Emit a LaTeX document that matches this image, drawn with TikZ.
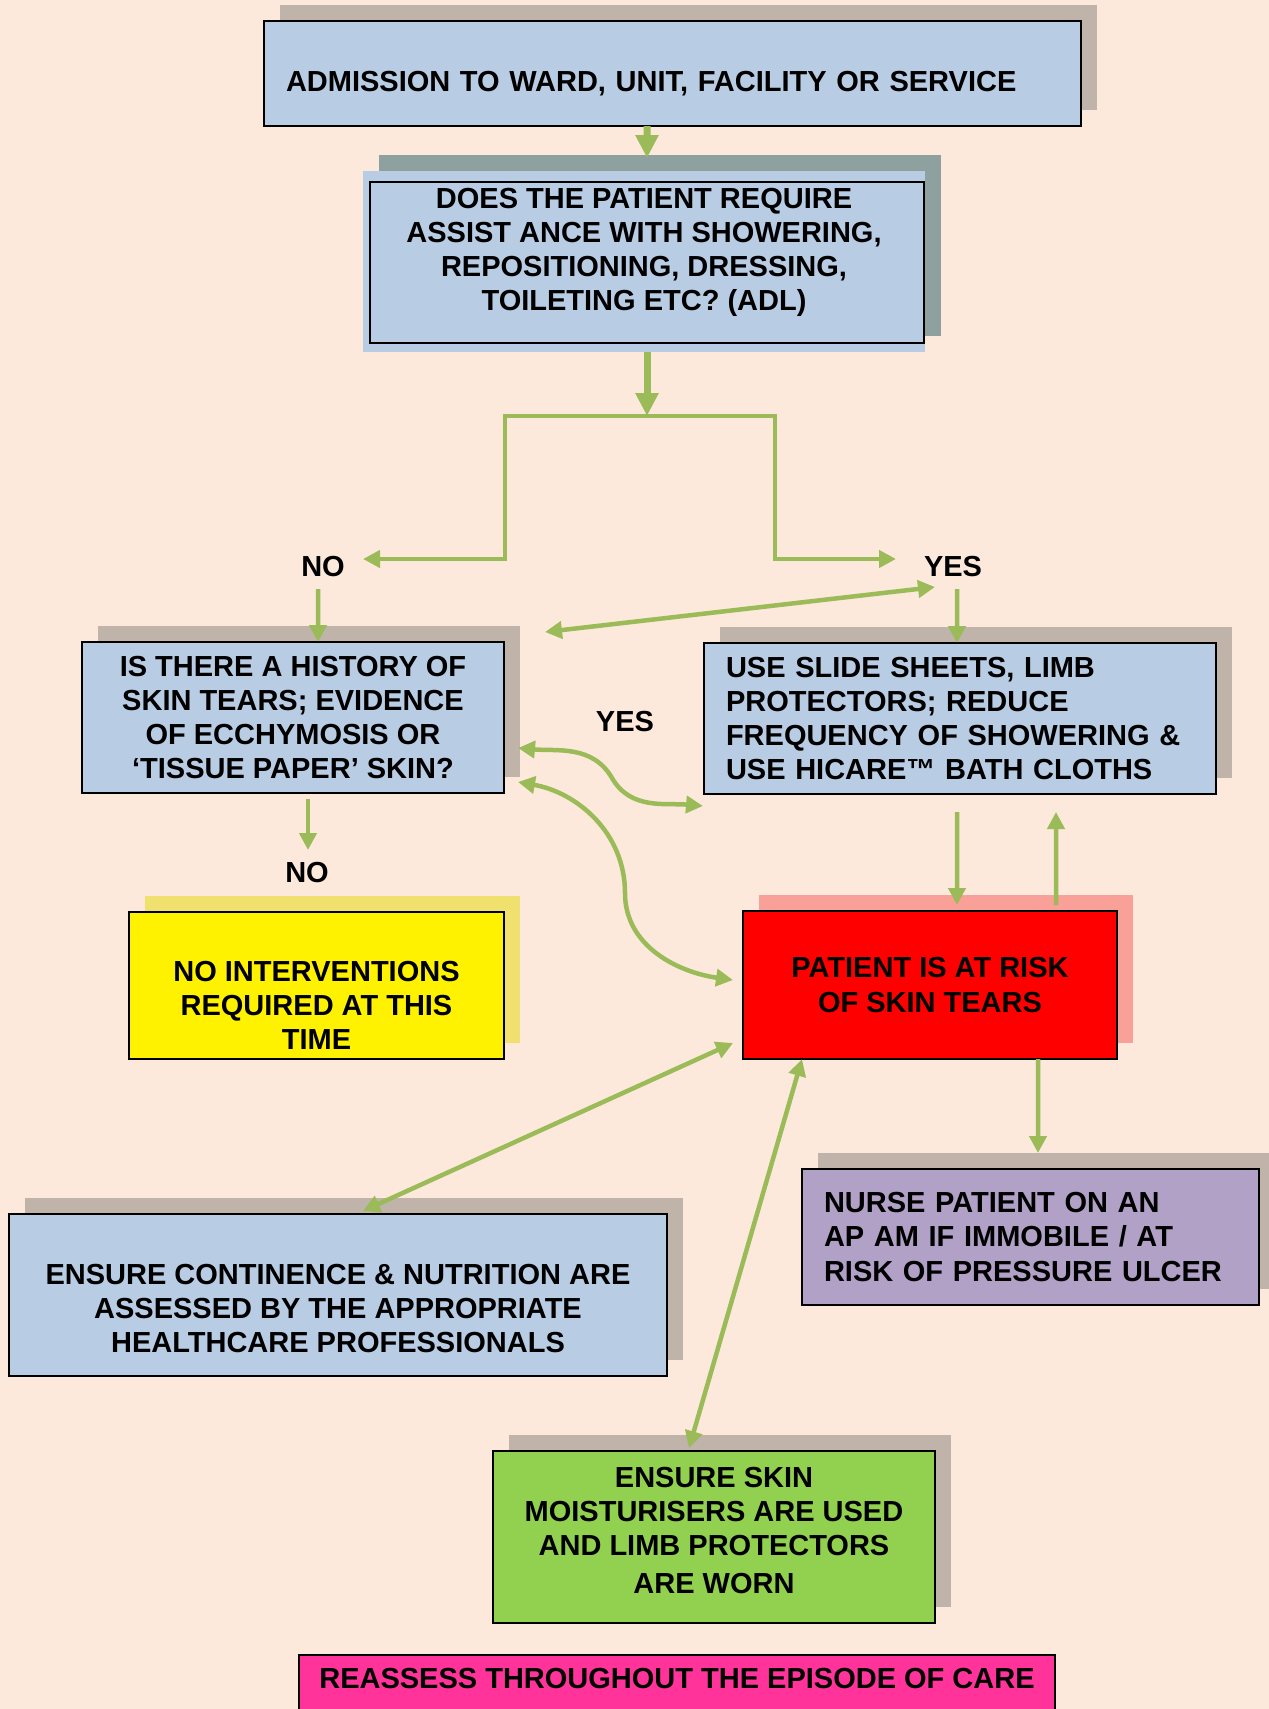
\documentclass[tikz,border=0pt]{standalone}
\usepackage{fontspec}
\setmainfont{Liberation Sans}
\usetikzlibrary{arrows.meta, positioning, shadows}

\definecolor{peach}{RGB}{252,233,219}
\definecolor{paleblue}{RGB}{184,204,228}
\definecolor{shadowgrey}{RGB}{191,179,170}
\definecolor{shadowteal}{RGB}{143,161,159}
\definecolor{shadowyellow}{RGB}{240,225,110}
\definecolor{shadowred}{RGB}{249,160,152}
\definecolor{lilac}{RGB}{178,161,199}
\definecolor{leafgreen}{RGB}{146,208,80}
\definecolor{hotpink}{RGB}{255,51,153}
\definecolor{arrowgreen}{RGB}{155,187,89}
% struts that push a node's text down (tall first line) or up (deep last line)
\newcommand{\topstrut}[1]{\rule{0pt}{#1}}
\newcommand{\botstrut}[1]{\rule[-#1]{0pt}{#1}}

\begin{document}
\begin{tikzpicture}[>={Triangle[length=0.34cm,width=0.34cm]}, on grid, font=\fontsize{16.5}{19.4}\selectfont\bfseries]
      \tikzstyle{box}=[draw=black, line width=0.04cm, inner sep=0pt, outer sep=0pt, align=center]
      \tikzstyle{lbox}=[box, align=left, inner xsep=0.44cm]
      \tikzstyle{shade}=[general shadow={fill=shadowgrey, shadow xshift=0.32cm, shadow yshift=0.32cm}]
      \tikzstyle{yshade}=[general shadow={fill=shadowyellow, shadow xshift=0.32cm, shadow yshift=0.32cm}]
      \tikzstyle{rshade}=[general shadow={fill=shadowred, shadow xshift=0.32cm, shadow yshift=0.32cm}]
      \tikzstyle{framed}=[fill=paleblue, inner sep=0pt, outer sep=0pt, align=center,
                          general shadow={fill=shadowteal, shadow xshift=0.32cm, shadow yshift=0.32cm},
                          path picture={\draw[black, line width=0.04cm] ([xshift=0.14cm,yshift=-0.22cm]path picture bounding box.north west) rectangle ([xshift=-0.02cm,yshift=0.18cm]path picture bounding box.south east);}]
      \tikzstyle{answer}=[]
      \tikzstyle{flow}=[->, draw=arrowgreen, line width=0.09cm]
      \tikzstyle{twoway}=[flow, <->]
      \tikzstyle{bigflow}=[draw=arrowgreen, line width=0.14cm, -{Triangle[length=0.46cm,width=0.44cm]}]
      \fill[peach] (0,0) rectangle (25.38,-34.18);
      \useasboundingbox (0,0) rectangle (25.38,-34.18);
      \node[lbox, shade, fill=paleblue, minimum height=2.1cm, text width=15.46cm] (admit) at (13.45,-1.47) {\topstrut{0.82cm}ADMISSION TO WARD, UNIT, FACILITY OR SERVICE};
      \node[framed, minimum width=11.24cm, minimum height=3.62cm] (ask) [below left=3.76cm and 0.57cm of admit] {DOES THE PATIENT REQUIRE\\ASSIST ANCE WITH SHOWERING,\\REPOSITIONING, DRESSING,\\TOILETING ETC? (ADL)\botstrut{0.48cm}};
      \node[box, shade, fill=paleblue, minimum width=8.44cm, minimum height=3.02cm] (hist) [below left=9.12cm and 7.02cm of ask] {IS THERE A HISTORY OF\\SKIN TEARS; EVIDENCE\\OF ECCHYMOSIS OR\\‘TISSUE PAPER’ SKIN?};
      \node[lbox, shade, fill=paleblue, minimum height=3.02cm, text width=9.36cm] (slide) [below right=9.14cm and 6.32cm of ask] {USE SLIDE SHEETS, LIMB\\PROTECTORS; REDUCE\\FREQUENCY OF SHOWERING \&\\USE HICARE™ BATH CLOTHS};
      \node[box, yshade, fill=yellow, minimum width=7.5cm, minimum height=2.94cm] (nointerv) [below right=5.36cm and 0.47cm of hist] {\topstrut{1.2cm}NO INTERVENTIONS\\REQUIRED AT THIS\\TIME};
      \node[box, rshade, fill=red, minimum width=7.48cm, minimum height=2.96cm] (risk) [below left=5.33cm and 0.6cm of slide] {PATIENT IS AT RISK\\OF SKIN TEARS};
      \node[lbox, shade, fill=lilac, minimum height=2.72cm, text width=8.26cm] (apam) [below right=5.04cm and 2.01cm of risk] {NURSE PATIENT ON AN\\AP AM IF IMMOBILE / AT\\RISK OF PRESSURE ULCER};
      \node[box, shade, fill=paleblue, minimum width=13.16cm, minimum height=3.24cm] (contin) [below left=6.2cm and 11.84cm of risk] {\topstrut{0.94cm}ENSURE CONTINENCE \& NUTRITION ARE\\ASSESSED BY THE APPROPRIATE\\HEALTHCARE PROFESSIONALS};
      \node[box, shade, fill=leafgreen, minimum width=8.84cm, minimum height=3.44cm] (moist) [below left=11.04cm and 4.32cm of risk] {ENSURE SKIN\\MOISTURISERS ARE USED\\AND LIMB PROTECTORS\\[0.08cm]ARE WORN\botstrut{0.28cm}};
      \node[box, fill=hotpink, minimum width=15.12cm, minimum height=1.14cm] (reassess) [below left=2.93cm and 0.74cm of moist] {REASSESS THROUGHOUT THE EPISODE OF CARE\botstrut{0.22cm}};
      \node[answer] (no1) [below left=6.11cm and 6.42cm of ask] {NO};
      \node[answer] (yes1) [below right=6.11cm and 6.18cm of ask] {YES};
      \node[answer] (yes2) [below right=0.09cm and 6.64cm of hist] {YES};
      \node[answer] (no2) [below right=3.11cm and 0.28cm of hist] {NO};
      \coordinate[below right=3.09cm and 0.06cm of ask] (split);
      \coordinate[left=2.84cm of split] (splitL);
      \coordinate[right=2.56cm of split] (splitR);
      \draw[bigflow] ([xshift=-0.51cm]admit.south) -- ([xshift=0.06cm,yshift=0.26cm]ask.north);
      \draw[bigflow] ([xshift=0.06cm]ask.south) -- (split);
      \draw[flow] (split) -- (splitL) |- ([xshift=0.8cm,yshift=0.16cm]no1.center);
      \draw[flow] (split) -- (splitR) |- ([xshift=-1.14cm,yshift=0.16cm]yes1.center);
      \draw[flow] ([xshift=-0.1cm,yshift=-0.44cm]no1.center) -- ([xshift=0.5cm]hist.north);
      \draw[flow] ([xshift=0.08cm,yshift=-0.44cm]yes1.center) -- ([xshift=-0.06cm]slide.north);
      \draw[twoway] ([xshift=0.82cm,yshift=0.2cm]hist.north east) -- ([xshift=-0.36cm,yshift=-0.4cm]yes1.center);
      \draw[twoway] ([xshift=0.28cm,yshift=-0.61cm]hist.east) to[out=-5,in=120] ([xshift=2.16cm,yshift=-1.21cm]hist.east) to[out=-60,in=175] ([xshift=-0.02cm,yshift=-0.24cm]slide.south west);
      \draw[twoway] ([xshift=0.28cm,yshift=-1.29cm]hist.east) to[out=-10,in=90] ([xshift=2.42cm,yshift=-3.51cm]hist.east) to[out=-90,in=172] ([xshift=-0.2cm,yshift=0.1cm]risk.west);
      \draw[flow] ([xshift=0.3cm,yshift=-0.12cm]hist.south) -- ([xshift=0.02cm,yshift=0.46cm]no2.center);
      \draw[flow] ([xshift=-0.06cm,yshift=-0.36cm]slide.south) -- ([xshift=0.54cm,yshift=0.12cm]risk.north);
      \draw[flow] ([xshift=2.52cm,yshift=0.12cm]risk.north) -- ([xshift=1.92cm,yshift=-0.36cm]slide.south);
      \draw[flow] ([xshift=2.16cm]risk.south) -- ([xshift=0.15cm,yshift=0.32cm]apam.north);
      \draw[twoway] ([xshift=-0.2cm,yshift=0.32cm]risk.south west) -- ([xshift=0.5cm,yshift=0.06cm]contin.north);
      \draw[twoway] ([xshift=1.18cm]risk.south west) -- ([xshift=-0.5cm,yshift=0.06cm]moist.north);
    \end{tikzpicture}
\end{document}
